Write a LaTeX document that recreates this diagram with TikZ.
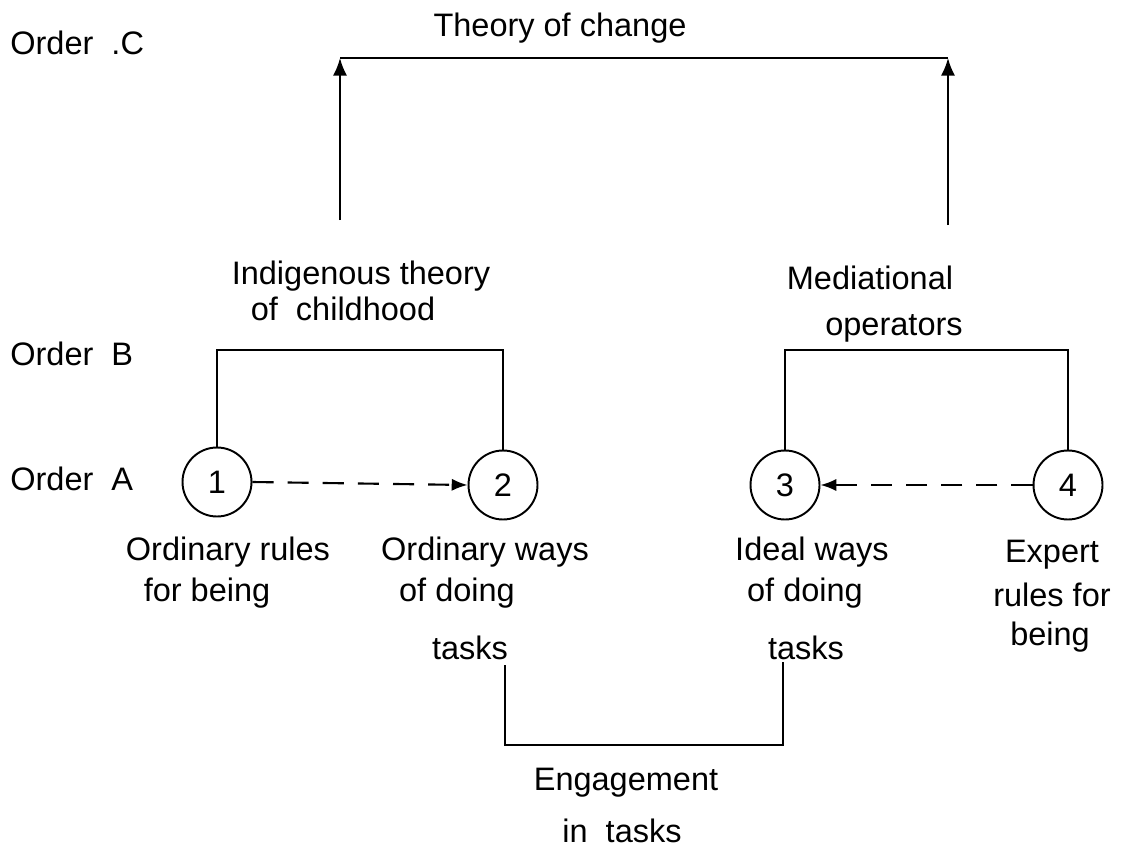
\documentclass[tikz,border=0pt]{standalone}
\usepackage{fontspec}
\setmainfont{Liberation Sans}
\usetikzlibrary{arrows.meta}
\begin{document}
\begin{tikzpicture}[x=0.02cm,y=-0.02cm,
  lbl/.style={font=\fontsize{18.5}{21}\selectfont, inner sep=0pt},
  lblL/.style={lbl, anchor=west},
  num/.style={draw, circle, line width=1.1pt, minimum size=1.38cm, inner sep=0pt, font=\fontsize{18.5}{21}\selectfont},
  ln/.style={line width=1.2pt},
  dsh/.style={line width=1.2pt, dash pattern=on 12pt off 8pt},
  arr/.style={-{Latex[length=9pt,width=7pt]}},
  bigarr/.style={-{Latex[length=10pt,width=8pt]}}]
\useasboundingbox (0,0) rectangle (1132,848);
% order labels
\node[lblL] (oc) at (10,43) {Order\ \ .C};
\node[lblL] (ob) at (10,354) {Order\ \ B};
\node[lblL] (oa) at (10,479) {Order\ \ A};
% top
\node[lbl] (toc) at (560,28) {Theory of change};
\coordinate (tL) at (340,58);
\coordinate (tR) at (948,58);
\coordinate (aL) at (340,220);
\coordinate (aR) at (948,225);
\draw[ln] (tL) -- (tR);
\draw[ln,bigarr] (aL) -- (tL);
\draw[ln,bigarr] (aR) -- (tR);
% order B labels
\node[lbl] (it1) at (361,276) {Indigenous theory};
\node[lbl] (it2) at (343,309) {of\ \ childhood};
\node[lbl] (mo1) at (870,278) {Mediational};
\node[lbl] (mo2) at (894,328) {operators};
% circles
\node[num] (c1) at (217,482) {1};
\node[num] (c2) at (503,485) {2};
\node[num] (c3) at (785,485) {3};
\node[num] (c4) at (1068,485) {4};
% brackets order B
\coordinate (bB) at (0,350);
\draw[ln] (c1.north) -- (c1.north |- bB) -- (c2.north |- bB) -- (c2.north);
\draw[ln] (c3.north) -- (c3.north |- bB) -- (c4.north |- bB) -- (c4.north);
% dashed arrows
\draw[dsh,arr] (c1.east) -- (c2.west);
\draw[dsh,arr] (c4.west) -- (c3.east);
% labels below
\node[lbl] (l1a) at (228,552) {Ordinary rules};
\node[lbl] (l1b) at (207,593) {for being};
\node[lbl] (l2a) at (485,552) {Ordinary ways};
\node[lbl] (l2b) at (457,593) {of\ doing};
\node[lbl] (l2c) at (470,648) {tasks};
\node[lbl] (l3a) at (812,552) {Ideal ways};
\node[lbl] (l3b) at (805,593) {of\ doing};
\node[lbl] (l3c) at (806,648) {tasks};
\node[lbl] (l4a) at (1052,555) {Expert};
\node[lbl] (l4b) at (1052,595) {rules for};
\node[lbl] (l4c) at (1050,637) {being};
% engagement bracket
\coordinate (eL) at (505,665);
\coordinate (eR) at (783,662);
\coordinate (eB) at (0,745);
\draw[ln] (eL) -- (eL |- eB) -- (eR |- eB) -- (eR);
\node[lbl] (en1) at (626,783) {Engagement};
\node[lbl] (en2) at (622,831) {in\ \ tasks};
\end{tikzpicture}
\end{document}
